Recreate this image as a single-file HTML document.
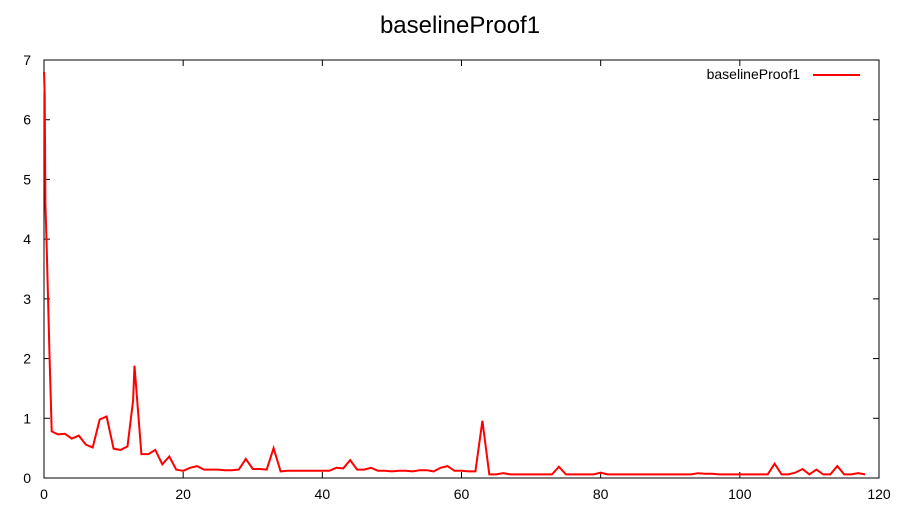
<!DOCTYPE html>
<html><head><meta charset="utf-8"><style>
body{margin:0;background:#fff}
svg text{font-family:"Liberation Sans",sans-serif;fill:#000}
</style></head><body>
<svg id="chart" width="910" height="520" xmlns="http://www.w3.org/2000/svg">
<rect width="910" height="520" fill="#fff"/>
<text x="460" y="33" font-size="24" text-anchor="middle">baselineProof1</text>
<g id="axes"></g>
<g id="series"></g>
<text x="800" y="79" font-size="14" text-anchor="end">baselineProof1</text>
<line x1="813" y1="75" x2="860" y2="75" stroke="#f00" stroke-width="2"/>
</svg>
<script>
const xTicks=[0,20,40,60,80,100,120];
const yTicks=[0,1,2,3,4,5,6,7];
const xVals=[0,0.1,0.2,0.4,0.6,0.8,1.0,1.1,2,3,4,5,6,7,8,9,10,11,12,12.8,13,13.2,14,15,16,17,18,19,20,21,22,23,24,25,26,27,28,29,30,31,32,33,34,35,36,37,38,39,40,41,42,43,44,45,46,47,48,49,50,51,52,53,54,55,56,57,58,59,60,61,62,63,64,65,66,67,68,69,70,71,72,73,74,75,76,77,78,79,80,81,82,83,84,85,86,87,88,89,90,91,92,93,94,95,96,97,98,99,100,101,102,103,104,105,106,107,108,109,110,111,112,113,114,115,116,117,118];
const yVals=[6.8,6.4,4.6,3.8,2.9,2.0,1.2,0.78,0.73,0.74,0.66,0.71,0.56,0.51,0.98,1.03,0.49,0.47,0.53,1.3,1.88,1.6,0.4,0.4,0.47,0.23,0.36,0.14,0.12,0.17,0.2,0.14,0.14,0.14,0.13,0.13,0.14,0.32,0.15,0.15,0.14,0.5,
0.11,0.12,0.12,0.12,0.12,0.12,0.12,0.12,0.17,0.16,0.3,0.14,0.14,0.17,0.12,0.12,0.11,0.12,0.12,0.11,0.13,0.13,0.11,0.17,0.2,0.12,0.12,0.11,0.11,0.96,
0.06,0.06,0.08,0.06,0.06,0.06,0.06,0.06,0.06,0.06,0.19,0.06,0.06,0.06,0.06,0.06,0.09,
0.06,0.06,0.06,0.06,0.06,0.06,0.06,0.06,0.06,0.06,0.06,0.06,0.06,0.08,0.07,0.07,0.06,0.06,0.06,0.06,0.06,0.06,0.06,0.06,
0.24,0.06,0.06,0.09,0.15,0.06,0.14,0.06,0.06,0.2,0.06,0.06,0.08,0.06];
const L=44,R=879,T=60,B=478;
const sx=v=>L+(v-0)/(120-0)*(R-L);
const sy=v=>B-(v-0)/(7-0)*(B-T);
const NS="http://www.w3.org/2000/svg";
const ax=document.getElementById('axes');
function mk(tag,attrs,parent){const e=document.createElementNS(NS,tag);for(const k in attrs)e.setAttribute(k,attrs[k]);parent.appendChild(e);return e;}
const frame=mk('rect',{x:L,y:T,width:R-L,height:B-T,fill:'none',stroke:'#000','stroke-width':1},ax);


xTicks.forEach(t=>{
 const x=sx(t);
 const a=mk('line',{x1:x,y1:B,x2:x,y2:B-6,stroke:'#000'},ax);
 
 
 const b=mk('line',{x1:x,y1:T,x2:x,y2:T+6,stroke:'#000'},ax);
 
 
 const tx=mk('text',{x:x,y:B+21,'font-size':14,'text-anchor':'middle'},ax);
 tx.textContent=t;
 
 
});
yTicks.forEach(t=>{
 const y=sy(t);
 const a=mk('line',{x1:L,y1:y,x2:L+6,y2:y,stroke:'#000'},ax);
 
 
 const b=mk('line',{x1:R,y1:y,x2:R-6,y2:y,stroke:'#000'},ax);
 
 
 const tx=mk('text',{x:L-13,y:y+5,'font-size':14,'text-anchor':'end'},ax);
 tx.textContent=t;
 
 
});
const pts=xVals.map((x,i)=>sx(x).toFixed(1)+','+sy(yVals[i]).toFixed(1)).join(' ');
const pl=mk('polyline',{points:pts,fill:'none',stroke:'#f00','stroke-width':2,'stroke-linejoin':'miter'},document.getElementById('series'));


</script>
</body></html>
